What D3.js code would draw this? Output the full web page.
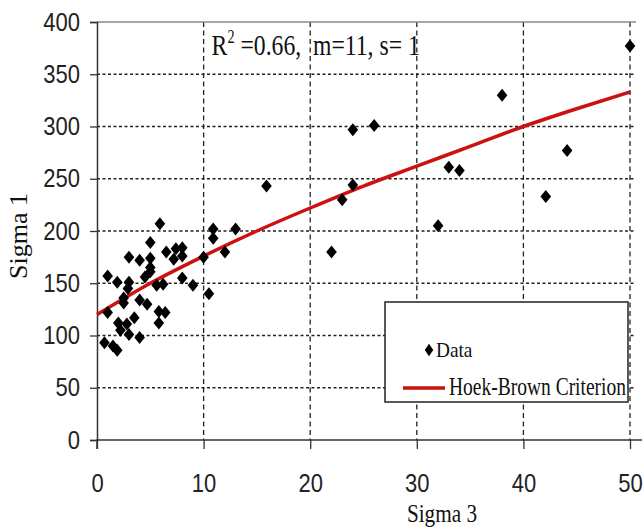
<!DOCTYPE html>
<html>
<head>
<meta charset="utf-8">
<script src="https://cdn.jsdelivr.net/npm/d3@7"></script>
<style>
  body { margin: 0; background: #fff; }
  svg { display: block; }
</style>
</head>
<body>
<svg width="644" height="529"></svg>
<script>
// observed points (sigma3, sigma1)
const sigma3 = [0.7, 1.5, 1.9, 1.0, 1.0, 1.9, 2.0, 2.2, 2.8, 2.5, 2.5, 3.0, 3.0, 2.9, 3.5, 3.0,
    4.0, 4.0, 4.0, 4.5, 4.7, 5.0, 5.0, 5.0, 5.0, 5.6, 5.9, 5.8, 5.8, 6.2, 6.4,
    6.5, 7.2, 7.4, 8.0, 8.0, 8.0, 9.0, 10.0, 10.5, 10.9, 10.9, 12.0, 13.0,
    15.9, 22.0, 23.0, 24.0, 24.0, 26.0, 32.0, 33.0, 34.0, 38.0, 42.1, 44.1, 50.0];
const sigma1 = [93, 90, 86, 122, 157, 151, 112, 105, 111, 136, 131, 101, 151, 145, 117, 175,
    98, 134, 172, 156, 130, 161, 165, 174, 189, 148, 207, 123, 112, 149, 122,
    180, 173, 183, 184, 176, 155, 148, 175, 140, 202, 193, 180, 202,
    243, 180, 230, 244, 297, 301, 205, 261, 258, 330, 233, 277, 377];

// Hoek-Brown curve
const hbSigma3 = [0, 5, 10, 15, 20, 25, 30, 35, 40, 45, 50];
const hbSigma1 = [120, 150, 176, 200, 222, 243, 262, 281, 300, 317, 333];

const xTicks = [0, 10, 20, 30, 40, 50];
const yTicks = [0, 50, 100, 150, 200, 250, 300, 350, 400];

const svg = d3.select('svg');
const margin = {left: 97, top: 22, right: 14, bottom: 89};
const innerWidth = 533, innerHeight = 418;
const serif = 'Liberation Serif, Times New Roman, serif';
const sans = 'Liberation Sans, Arial, sans-serif';

const x = d3.scaleLinear().domain([0, 50]).range([0, innerWidth]);
const y = d3.scaleLinear().domain([0, 400]).range([innerHeight, 0]);

const g = svg.append('g').attr('transform', `translate(${margin.left},${margin.top})`);

// grid
g.append('g').selectAll('line').data(yTicks.filter(d => d > 0 && d < 400)).enter().append('line')
    .attr('x1', 0).attr('x2', innerWidth + 6)
    .attr('y1', d => y(d)).attr('y2', d => y(d))
    .attr('stroke', '#222').attr('stroke-width', 1.3).attr('stroke-dasharray', '3,2.5');
g.append('g').selectAll('line').data(xTicks.filter(d => d > 0)).enter().append('line')
    .attr('x1', d => x(d)).attr('x2', d => x(d))
    .attr('y1', 0).attr('y2', innerHeight)
    .attr('stroke', '#222').attr('stroke-width', 1.3).attr('stroke-dasharray', '5,3.5');
// top border
g.append('line').attr('x1', 0).attr('x2', innerWidth + 6).attr('y1', 0).attr('y2', 0)
    .attr('stroke', '#888').attr('stroke-width', 1.5);

// axes
const yAxis = g.append('g').call(d3.axisLeft(y).tickValues(yTicks).tickSize(7).tickPadding(0));
yAxis.select('.domain').attr('stroke', '#333').attr('stroke-width', 1.5);
yAxis.selectAll('.tick line').attr('stroke', '#333').attr('stroke-width', 1.3);
yAxis.selectAll('text').attr('x', null)
    .attr('transform', 'translate(-17,0) scale(0.88,1)')
    .attr('font-family', sans).attr('font-size', 25).attr('fill', '#222');

const xAxis = g.append('g').attr('transform', `translate(0,${innerHeight})`)
    .call(d3.axisBottom(x).tickValues(xTicks).tickSize(9).tickPadding(0));
xAxis.select('.domain').attr('stroke', '#333').attr('stroke-width', 1.5)
    .attr('d', `M0,9V0H${innerWidth + 12}`);
xAxis.selectAll('.tick line').attr('stroke', '#333').attr('stroke-width', 1.3);
xAxis.selectAll('text').attr('y', null)
    .attr('transform', 'translate(0,34) scale(0.88,1)')
    .attr('font-family', sans).attr('font-size', 25).attr('fill', '#222');

// curve
const line = d3.line().x(d => x(d[0])).y(d => y(d[1])).curve(d3.curveMonotoneX);
g.append('path').datum(hbSigma3.map((d, i) => [d, hbSigma1[i]]))
    .attr('d', line).attr('fill', 'none').attr('stroke', '#cc1111').attr('stroke-width', 3.5);

// points
const diamond = 'M0,-6.5L5.3,0L0,6.5L-5.3,0Z';
g.append('g').selectAll('path').data(sigma3.map((d, i) => [d, sigma1[i]])).enter().append('path')
    .attr('d', diamond)
    .attr('transform', d => `translate(${x(d[0])},${y(d[1])})`)
    .attr('fill', '#000');

// annotation
const note = g.append('text').attr('transform', `translate(${x(10.75)},${y(368)}) scale(0.79,1)`)
    .style('white-space', 'pre')
    .attr('font-family', serif).attr('font-size', 30).attr('fill', '#111');
note.append('tspan').text('R');
note.append('tspan').attr('font-size', 18).attr('dy', -12).text('2');
note.append('tspan').attr('dy', 12).text(' =0.66,  m=11, s= 1');

// legend
const lg = g.append('g').attr('transform', `translate(${385 - margin.left},${302 - margin.top})`);
lg.append('rect').attr('width', 243).attr('height', 100)
    .attr('fill', '#fff').attr('stroke', '#222').attr('stroke-width', 1.5);
lg.append('path').attr('d', diamond).attr('transform', 'translate(44,48) scale(0.8,0.95)').attr('fill', '#000');
lg.append('text').attr('transform', 'translate(51,55) scale(0.92,1)').text('Data')
    .attr('font-family', serif).attr('font-size', 21).attr('fill', '#111');
lg.append('line').attr('x1', 18).attr('x2', 60).attr('y1', 86).attr('y2', 86)
    .attr('stroke', '#cc1111').attr('stroke-width', 3.5);
lg.append('text').attr('transform', 'translate(64,93) scale(0.75,1)').text('Hoek-Brown Criterion')
    .attr('font-family', serif).attr('font-size', 26).attr('fill', '#111');

// axis titles
svg.append('text').attr('transform', 'translate(442,522) scale(0.85,1)').attr('text-anchor', 'middle').text('Sigma 3')
    .attr('font-family', serif).attr('font-size', 25).attr('fill', '#111');
svg.append('text').attr('transform', 'translate(27,236) rotate(-90)').attr('text-anchor', 'middle').text('Sigma 1')
    .attr('font-family', serif).attr('font-size', 26).attr('fill', '#111');
</script>
</body>
</html>
